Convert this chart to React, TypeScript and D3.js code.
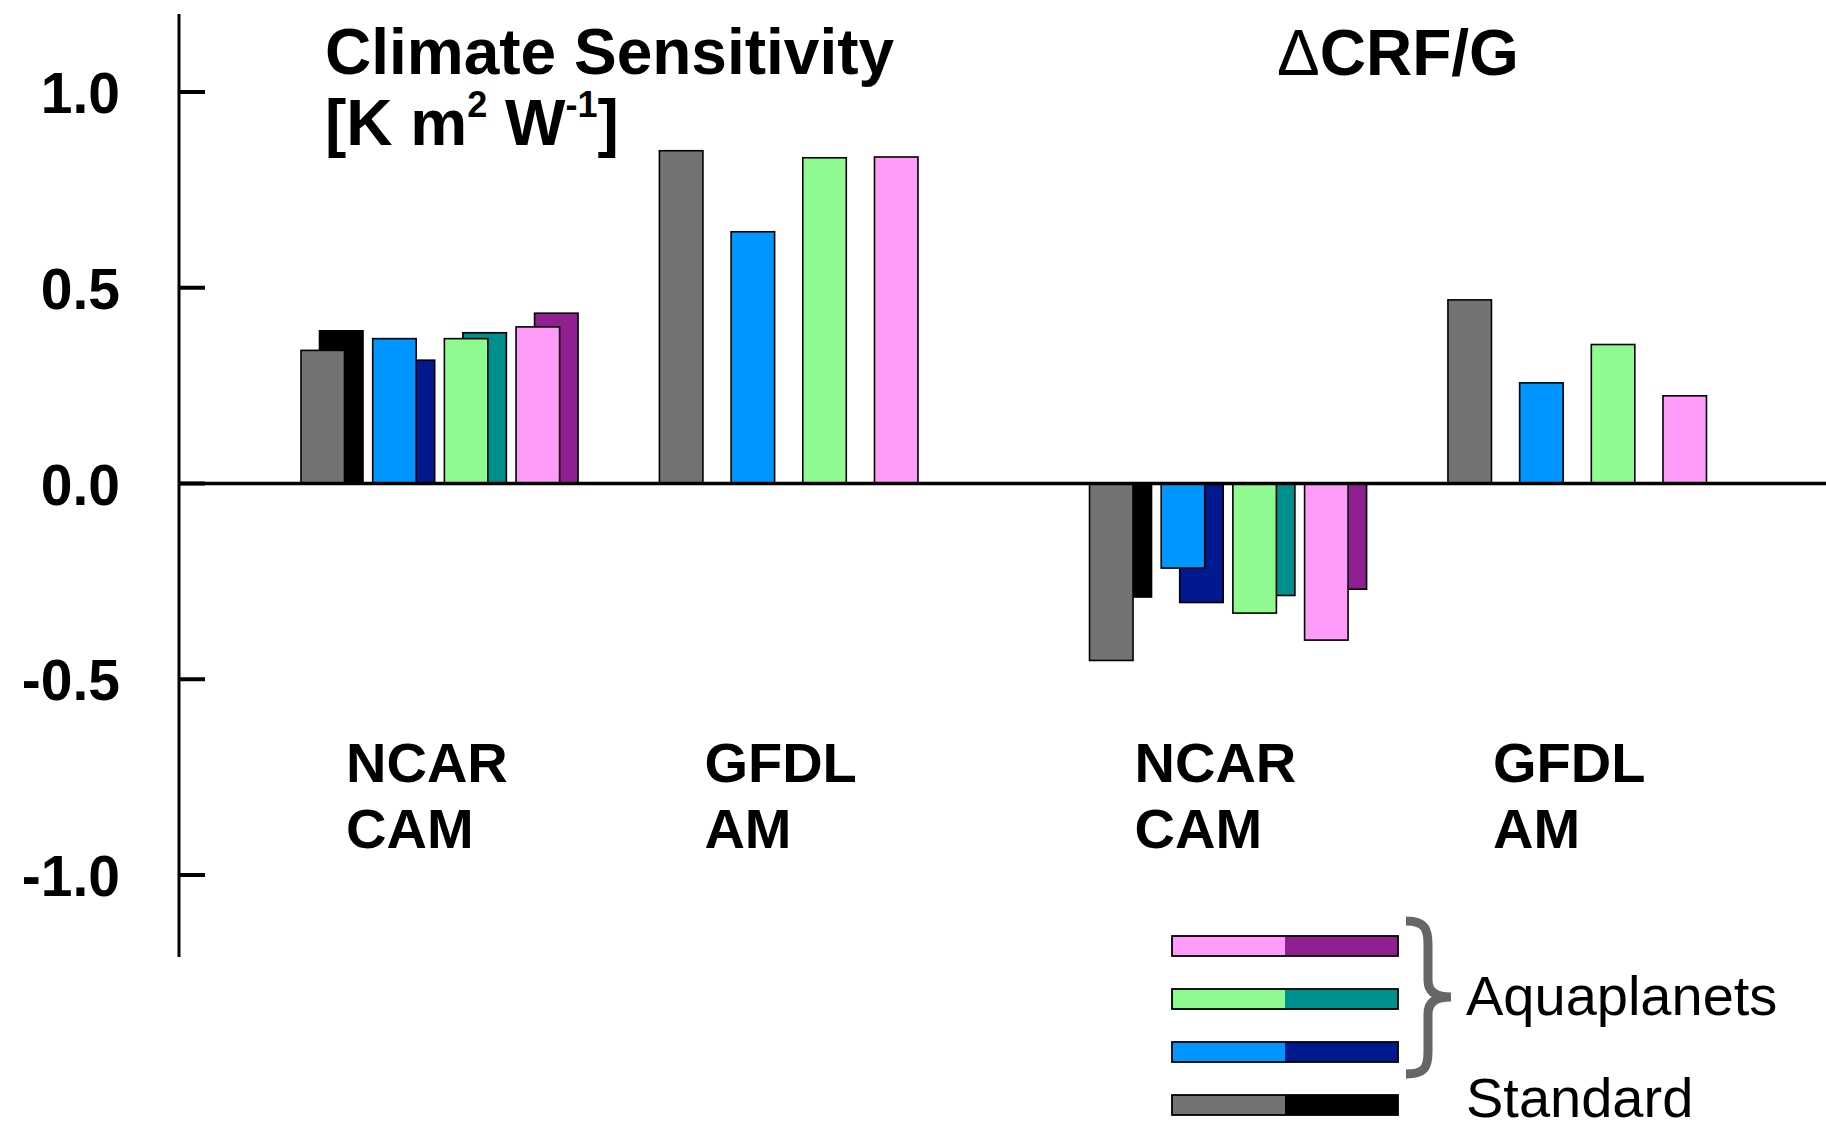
import { useEffect } from "react";
import { scaleLinear } from "d3";

// config order: standard, aqua (blue), aqua (green), aqua (pink)
const configs = ["Standard", "Aqua-blue", "Aqua-green", "Aqua-pink"];
const lightColors = ["#737373", "#0096ff", "#8ffa8f", "#ff9bf9"];
const darkColors = ["#000000", "#00198f", "#008f8f", "#901f8f"];

// Climate sensitivity [K m2 W-1]
const csNcarFront = [0.34, 0.37, 0.37, 0.40];
const csNcarBack = [0.39, 0.315, 0.385, 0.435];
const csGfdl = [0.85, 0.643, 0.832, 0.834];

// delta CRF / G
const crfNcarFront = [-0.452, -0.216, -0.331, -0.40];
const crfNcarBack = [-0.29, -0.304, -0.286, -0.27];
const crfGfdl = [0.469, 0.257, 0.355, 0.224];

const yTicks = [-1, -0.5, 0, 0.5, 1];
const legendLabels = ["Aquaplanets", "Standard"];

// slot where each model group starts on the x scale
const groups = [
  { start: 0, front: csNcarFront, back: csNcarBack, label: ["NCAR", "CAM"] },
  { start: 5, front: csGfdl, back: null, label: ["GFDL", "AM"] },
  { start: 11, front: crfNcarFront, back: crfNcarBack, label: ["NCAR", "CAM"] },
  { start: 16, front: crfGfdl, back: null, label: ["GFDL", "AM"] },
];

const width = 1826;
const height = 1131;
const font = "'Liberation Sans', Arial, Helvetica, sans-serif";

export default function App() {
  useEffect(() => {
    document.body.style.margin = "0";
  }, []);

  const y = scaleLinear().domain([-1, 1]).range([875, 92]);
  const x = scaleLinear().domain([0, 19]).range([301, 1663]);
  const barW = 43.5;
  const backOff = 18.5;
  const axisX = 179;

  const rect = (xx: number, v: number, fill: string, key: string) => (
    <rect
      key={key}
      x={xx}
      y={Math.min(y(v), y(0))}
      width={barW}
      height={Math.abs(y(v) - y(0))}
      fill={fill}
      stroke="#000"
      strokeWidth={1.6}
    />
  );

  // legend bars
  const legendY = scaleLinear().domain([0, 3]).range([946, 1105]);
  const legendOrder = [3, 2, 1, 0]; // pink, green, blue, standard

  return (
    <svg width={width} height={height} style={{ display: "block" }} fontFamily={font}>
      <rect width={width} height={height} fill="#fff" />

      {/* bars */}
      {groups.map((g, gi) => (
        <g key={gi}>
          {configs.map((c, i) => (
            <g key={c}>
              {g.back && rect(x(g.start + i) + backOff, g.back[i], darkColors[i], "b")}
              {rect(x(g.start + i), g.front[i], lightColors[i], "f")}
            </g>
          ))}
          <text x={x(g.start) + 45} y={782} fontSize={56} fontWeight="bold">{g.label[0]}</text>
          <text x={x(g.start) + 45} y={848} fontSize={56} fontWeight="bold">{g.label[1]}</text>
        </g>
      ))}

      {/* zero line */}
      <line x1={axisX} x2={width} y1={y(0)} y2={y(0)} stroke="#000" strokeWidth={3.5} />

      {/* y axis */}
      <line x1={axisX} x2={axisX} y1={14} y2={957} stroke="#000" strokeWidth={3} />
      {yTicks.map((t) => (
        <g key={t}>
          <line x1={axisX} x2={205} y1={y(t)} y2={y(t)} stroke="#000" strokeWidth={4} />
          <text x={120} y={y(t) + 21} fontSize={57} fontWeight="bold" textAnchor="end">
            {t.toFixed(1)}
          </text>
        </g>
      ))}

      {/* panel titles */}
      <text x={325} y={74} fontSize={64} fontWeight="bold">Climate Sensitivity</text>
      <text x={325} y={145} fontSize={64} fontWeight="bold">
        [K m<tspan fontSize={36} dy={-28}>2</tspan>
        <tspan dy={28}> W</tspan>
        <tspan fontSize={36} dy={-28}>-1</tspan>
        <tspan dy={28}>]</tspan>
      </text>
      <text x={1277} y={75} fontSize={64} fontWeight="bold">
        <tspan fontWeight="normal">Δ</tspan>CRF/G
      </text>

      {/* legend */}
      {legendOrder.map((ci, k) => (
        <g key={ci}>
          <rect x={1172} y={legendY(k) - 10} width={113} height={20} fill={lightColors[ci]} />
          <rect x={1285} y={legendY(k) - 10} width={113} height={20} fill={darkColors[ci]} />
          <rect x={1172} y={legendY(k) - 10} width={226} height={20} fill="none" stroke="#000" strokeWidth={1.8} />
        </g>
      ))}
      <path
        d="M1406,921 C1426,921 1428,930 1428,945 L1428,980 C1428,992 1436,997 1451,997 C1436,997 1428,1002 1428,1014 L1428,1052 C1428,1068 1424,1074 1406,1074"
        fill="none"
        stroke="#666"
        strokeWidth={9}
      />
      <text x={1466} y={1015} fontSize={56}>{legendLabels[0]}</text>
      <text x={1466} y={1117} fontSize={56}>{legendLabels[1]}</text>
    </svg>
  );
}
